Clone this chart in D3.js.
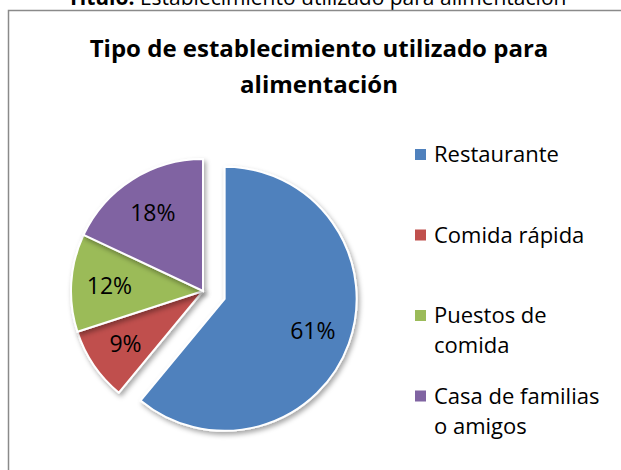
<!DOCTYPE html>
<html>
<head>
<meta charset="utf-8">
<script src="https://cdn.jsdelivr.net/npm/d3@7"></script>
<style>
  body { margin: 0; background: #fff; }
  svg { display: block; font-family: "Open Sans", sans-serif; }
</style>
</head>
<body>
<div id="chart"></div>
<script>
const categories = ["Restaurante", "Comida rápida", "Puestos de comida", "Casa de familias o amigos"];
const legendLines = [["Restaurante"], ["Comida rápida"], ["Puestos de", "comida"], ["Casa de familias", "o amigos"]];
const values = [61, 9, 12, 18];
const colors = ["#4F81BD", "#C0504D", "#9BBB59", "#8064A2"];
const titleLines = ["Tipo de establecimiento utilizado para", "alimentación"];

const width = 621, height = 470;
const CENTER = { x: 203, y: 291 };
const RADIUS = 132;
const EXPLODE = 23;

const svg = d3.select("#chart").append("svg")
    .attr("width", width)
    .attr("height", height);

// drop shadow for the slices
const defs = svg.append("defs");
const f = defs.append("filter").attr("id", "shadow")
    .attr("x", "-20%").attr("y", "-20%").attr("width", "140%").attr("height", "140%");
f.append("feDropShadow")
    .attr("dx", 2).attr("dy", 3).attr("stdDeviation", 2.5)
    .attr("flood-color", "#000").attr("flood-opacity", 0.35);

// caption above the chart (cut at the top)
const cap = svg.append("text")
    .attr("x", 317).attr("y", 5)
    .attr("text-anchor", "middle")
    .style("font-size", "21px")
    .style("fill", "#000");
cap.append("tspan").style("font-weight", "bold").text("Título:");
cap.append("tspan").text(" Establecimiento utilizado para alimentación");

// chart frame
svg.append("rect")
    .attr("x", 8.5).attr("y", 10.5)
    .attr("width", 640).attr("height", 480)
    .attr("fill", "#fff")
    .attr("stroke", "#8a8a8a")
    .attr("stroke-width", 1.5);

// title
svg.append("g").selectAll("text")
    .data(titleLines)
    .join("text")
    .attr("x", 319)
    .attr("y", (d, i) => 57 + i * 36)
    .attr("text-anchor", "middle")
    .style("font-size", "24px")
    .style("font-weight", "bold")
    .text(d => d);

// pie
const pie = d3.pie().sort(null).value(d => d)(values);
const arc = d3.arc().innerRadius(0).outerRadius(RADIUS);
const labelArc = d3.arc().innerRadius(RADIUS * 0.71).outerRadius(RADIUS * 0.71);

const g = svg.append("g")
    .attr("transform", `translate(${CENTER.x}, ${CENTER.y})`);

const slices = g.selectAll("g.slice")
    .data(pie)
    .join("g")
    .attr("class", "slice")
    .attr("transform", (d, i) => {
        if (i !== 0) return null;
        const a = (d.startAngle + d.endAngle) / 2;
        return `translate(${Math.sin(a) * EXPLODE}, ${-Math.cos(a) * EXPLODE})`;
    });

slices.append("path")
    .attr("d", arc)
    .attr("fill", (d, i) => colors[i])
    .attr("stroke", "#fff")
    .attr("stroke-width", 2)
    .attr("filter", "url(#shadow)");

slices.append("text")
    .attr("transform", d => `translate(${labelArc.centroid(d)})`)
    .attr("dy", "0.38em")
    .attr("text-anchor", "middle")
    .style("font-size", "23px")
    .text(d => d.data + "%");

// legend
const legend = svg.append("g").selectAll("g")
    .data(categories)
    .join("g")
    .attr("transform", (d, i) => `translate(415, ${162 + i * 80.5})`);

legend.append("rect")
    .attr("x", 0).attr("y", -13)
    .attr("width", 11).attr("height", 11)
    .attr("fill", (d, i) => colors[i]);

legend.append("text")
    .style("font-size", "22px")
    .selectAll("tspan")
    .data((d, i) => legendLines[i])
    .join("tspan")
    .attr("x", 19)
    .attr("y", (d, j) => j * 30)
    .text(d => d);
</script>
</body>
</html>
